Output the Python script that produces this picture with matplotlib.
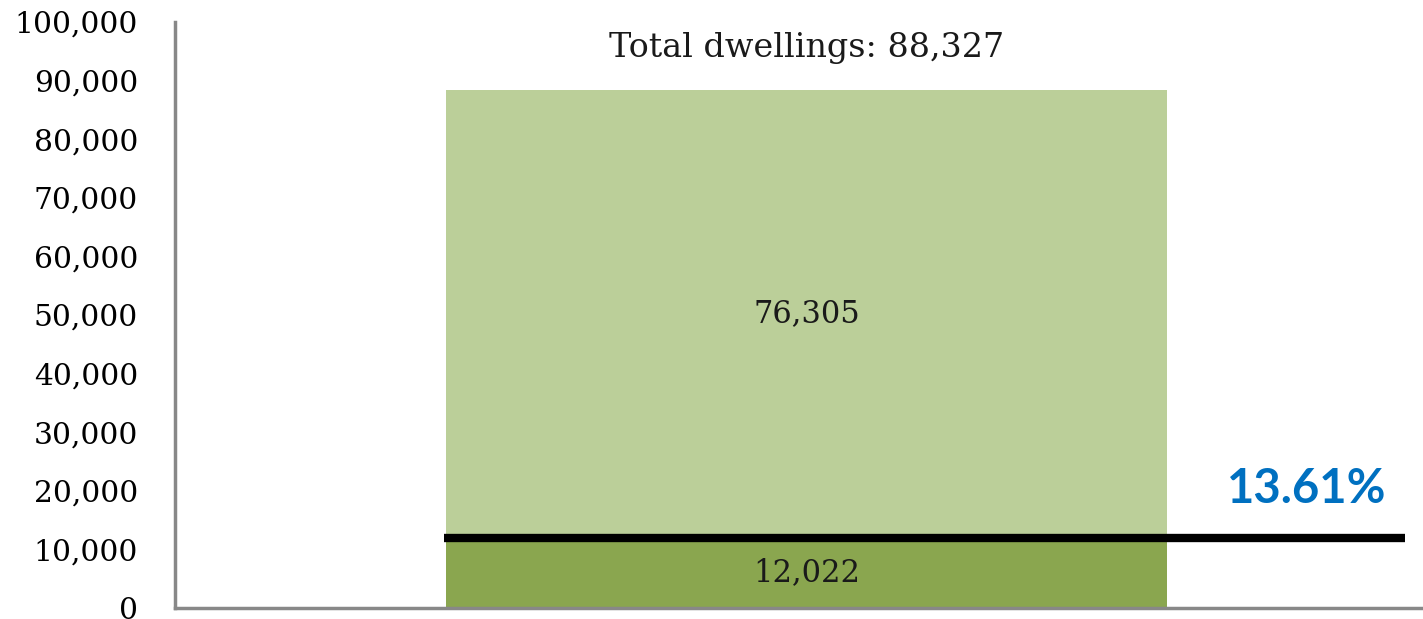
import matplotlib.pyplot as plt
import numpy as np

# data
segments = ['below', 'above']
values = [12022, 76305]
total = 88327
share_label = '13.61%'
yticks = np.arange(0, 100001, 10000)

colors = ['#8AA64F', '#BBCF99']
serif = 'DejaVu Serif'

fig = plt.figure(figsize=(14.23, 6.19), dpi=100)
ax = fig.add_axes([175/1423, 11/619, 1248/1423, 586/619])

xc, w = 0.506, 0.577
bottom = 0
for v, c in zip(values, colors):
    ax.bar(xc, v, width=w, bottom=bottom, color=c, edgecolor='none', zorder=2)
    ax.text(xc, bottom + v/2, '{:,}'.format(v), ha='center', va='center',
            fontsize=22, family=serif, color='#1a1a1a', zorder=4)
    bottom += v

ax.text(xc, total + 7200, 'Total dwellings: {:,}'.format(total), ha='center', va='center',
        fontsize=24, family=serif, color='#1a1a1a')

# threshold line
ax.plot([0.2155, 0.9856], [values[0], values[0]], color='black', lw=6, zorder=3,
        solid_capstyle='butt')
ax.text(0.907, values[0] + 8200, share_label, ha='center', va='center', fontsize=34,
        fontweight='bold', family=['Lato', 'DejaVu Sans'], color='#0070C0')

ax.set_xlim(0, 1)
ax.set_ylim(0, 100000)
ax.set_yticks(yticks)
ax.set_yticklabels(['{:,}'.format(t) for t in yticks], family=serif, fontsize=21.4)
ax.tick_params(axis='y', length=0, pad=26.5)
ax.set_xticks([])
for s in ['top', 'right']:
    ax.spines[s].set_visible(False)
for s in ['left', 'bottom']:
    ax.spines[s].set_color('#888888')
    ax.spines[s].set_linewidth(2.5)

plt.savefig('out.png', dpi=100)
